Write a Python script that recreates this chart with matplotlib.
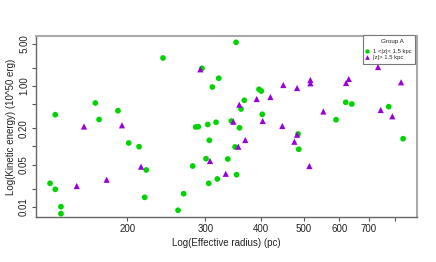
import matplotlib
matplotlib.use('Agg')
import matplotlib.pyplot as plt
from matplotlib.patches import Rectangle
from matplotlib.lines import Line2D

plt.rcParams['font.family'] = ['Liberation Sans', 'DejaVu Sans']

# 1 < |z| < 1.5 kpc
g1_radius = [351.6, 240.8, 294.7, 321.4, 310.9, 360.8, 169.6, 190.7, 137.8, 172.9,
             285.3, 289.2, 303.6, 316.9, 343.1, 357.9, 201.6, 212.7, 306.1, 220.8,
             300.9, 336.8, 280.8, 352.5, 319.0, 305.2, 134.1, 137.8, 219.0, 268.0,
             260.3, 141.9, 141.9, 349.8, 402.8, 590.2, 484.8, 835.3, 486.5, 396.0,
             400.7, 366.9, 620.6, 640.3, 775.5]
g1_energy = [5.298, 2.911, 1.965, 1.342, 0.963, 0.4157, 0.5229, 0.3897, 0.3344, 0.2786,
             0.2092, 0.2116, 0.2302, 0.2503, 0.2630, 0.2029, 0.1136, 0.0987, 0.1260, 0.0406,
             0.0624, 0.0617, 0.0472, 0.0339, 0.0288, 0.0244, 0.0244, 0.0194, 0.0143, 0.0164,
             0.00872, 0.0100, 0.00766, 0.0976, 0.3396, 0.2764, 0.1602, 0.1338, 0.0894, 0.882,
             0.826, 0.5795, 0.537, 0.503, 0.4539]

# |z| > 1.5 kpc
g2_radius = [292.2, 357.5, 159.9, 194.7, 346.6, 214.9, 307.2, 333.3, 154.0, 179.8,
             355.7, 403.6, 446.8, 552.6, 744.0, 790.1, 482.3, 368.8, 475.6, 514.1,
             733.7, 826.7, 516.8, 516.8, 630.4, 621.6, 449.1, 482.3, 391.3, 420.1]
g2_energy = [1.891, 0.4900, 0.2132, 0.2232, 0.2562, 0.0460, 0.0572, 0.0351, 0.0220, 0.0280,
             0.0987, 0.2630, 0.2174, 0.3780, 0.4002, 0.3148, 0.1560, 0.1274, 0.1194, 0.0472,
             2.064, 1.152, 1.257, 1.109, 1.306, 1.121, 1.039, 0.927, 0.609, 0.657]

x_ticks = [200, 300, 400, 500, 600, 700, 800]
x_labels = ['200', '300', '400', '500', '600', '700', '']
y_ticks = [0.01, 0.02, 0.05, 0.1, 0.2, 0.5, 1, 2, 5]
y_labels = ['0.01', '', '0.05', '', '0.20', '', '1.00', '', '5.00']

green = '#00d400'
purple = '#9a00d8'

W, H = 436, 262
fig = plt.figure(figsize=(W / 100, H / 100), dpi=100)
ax = fig.add_axes([36 / W, 1 - 217.3 / H, (416.8 - 36) / W, (217.3 - 36) / H])
ax.set_xscale('log')
ax.set_yscale('log')

ax.scatter(g1_radius, g1_energy, s=17, c=green, edgecolors='none', zorder=3)
ax.scatter(g2_radius, g2_energy, s=20, marker='^', c=purple, edgecolors='none', zorder=3)

ax.set_xlim(124.7, 896.8)
ax.set_ylim(0.00667, 6.74)
ax.minorticks_off()
ax.set_xticks(x_ticks)
ax.set_xticklabels(x_labels)
ax.set_yticks(y_ticks)
ax.set_yticklabels(y_labels, rotation=90, va='center')
ax.tick_params(direction='out', length=3, width=0.8, color='#555555',
               labelsize=7, labelcolor='#222222', pad=2)

for s in ['left', 'bottom']:
    ax.spines[s].set_color('#666666')
    ax.spines[s].set_linewidth(1.0)
for s in ['top', 'right']:
    ax.spines[s].set_color('#aaaaaa')
    ax.spines[s].set_linewidth(1.5)

ax.set_xlabel('Log(Effective radius) (pc)', fontsize=7, color='#222222', labelpad=3)
ax.set_ylabel('Log(Kinetic energy) (10^50 erg)', fontsize=7, color='#222222', labelpad=2)

# legend box drawn by hand (R style, text clipped at the box edge)
def fx(px):
    return px / W

def fy(py):
    return 1 - py / H

box = Rectangle((fx(363), fy(64)), fx(415) - fx(363), fy(35) - fy(64),
                transform=fig.transFigure, facecolor='white', edgecolor='#777777',
                linewidth=0.8, zorder=5)
fig.add_artist(box)
fig.text(fx(392), fy(42), 'Group A', fontsize=4.5, ha='center', va='center',
         color='#222222', zorder=6)
labels = ['1 <|z|< 1.5 kpc', '|z|> 1.5 kpc']
styles = [('o', green, 3.2), ('^', purple, 3.4)]
for i, (lab, (mk, col, ms)) in enumerate(zip(labels, styles)):
    yy = fy(51.3 + i * 6.0)
    fig.add_artist(Line2D([fx(366.7)], [yy], marker=mk, color=col, markersize=ms,
                          markeredgewidth=0, linestyle='none',
                          transform=fig.transFigure, zorder=6))
    t = fig.text(fx(372.5), yy, lab, fontsize=4.2, ha='left', va='center',
                 color='#222222', zorder=6)
    t.set_clip_path(box)

fig.savefig('out.png', dpi=100)
